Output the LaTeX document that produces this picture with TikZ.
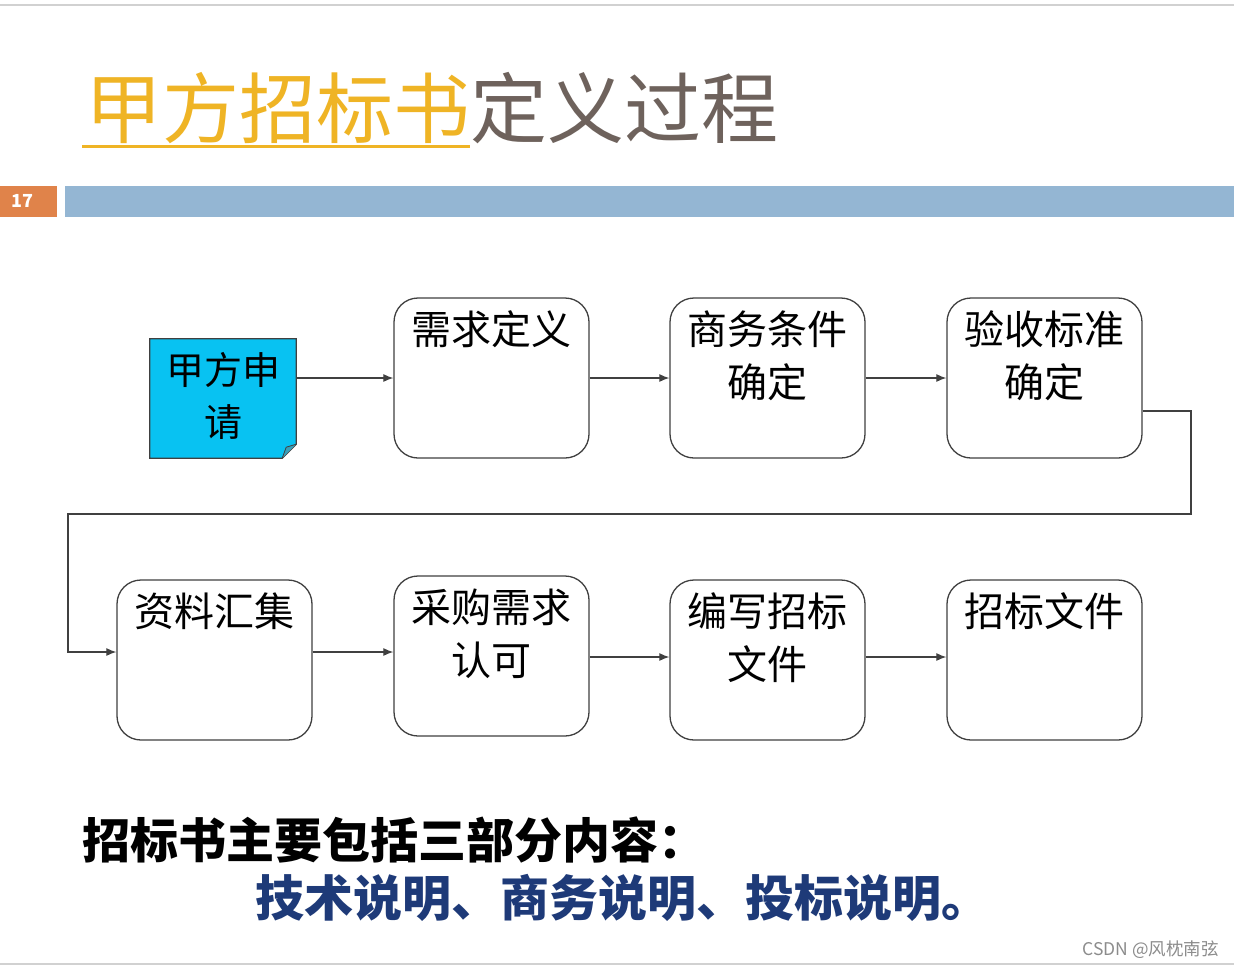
\documentclass[tikz,border=0pt]{standalone}
\usepackage{fontspec}
\setmainfont{Noto Sans CJK SC}
\setsansfont{Noto Sans CJK SC}
\usetikzlibrary{arrows.meta}
\definecolor{gold}{HTML}{EFB425}
\definecolor{titlegray}{HTML}{6E625C}
\definecolor{numorange}{HTML}{E0834A}
\definecolor{barblue}{HTML}{94B6D3}
\definecolor{notecyan}{HTML}{08C2F2}
\definecolor{navy}{HTML}{1E3A78}
\definecolor{linegray}{HTML}{404040}
\tikzset{
  procbox/.style={draw=linegray, line width=1.3pt, rounded corners=24pt, minimum width=195pt, minimum height=160pt, inner sep=0pt},
  boxtext/.style={anchor=north, align=center, inner sep=0pt, font=\fontsize{40}{53}\selectfont},
  conn/.style={draw=linegray, line width=1.2pt, -{Latex[length=10pt,width=8pt]}},
}
\begin{document}
\begin{tikzpicture}[x=1pt,y=-1pt]
\useasboundingbox (0,0) rectangle (1234,969);
\fill[white] (0,0) rectangle (1234,969);
% frame lines
\draw[draw=black!18, line width=2pt] (0,5) -- (1234,5);
\draw[draw=black!18, line width=2pt] (0,964) -- (1234,964);
% title
\node[anchor=west, inner sep=0pt, font=\fontsize{77}{77}\selectfont] (title) at (85,108)
  {\textcolor{gold}{甲方招标书}\textcolor{titlegray}{定义过程}};
\draw[draw=gold, line width=3pt] (82,146) -- (470,146);
% slide number and bar
\fill[numorange] (0,186) rectangle (57,217);
\node[text=white, font=\bfseries\fontsize{18}{18}\selectfont, inner sep=0pt] (num) at (22,201) {17};
\fill[barblue] (65,186) rectangle (1234,217);
% note box
\node[minimum width=146pt, minimum height=119pt, inner sep=0pt] (a0) at (223,398.5) {};
\fill[notecyan, draw=linegray, line width=1.2pt]
  (a0.north west) -- (a0.north east) -- ([yshift=14pt]a0.south east) -- ([xshift=-14pt]a0.south east) -- (a0.south west) -- cycle;
\fill[notecyan!70!black!80, draw=linegray, line width=0.8pt]
  ([xshift=-14pt]a0.south east) -- ([xshift=-10pt,yshift=11pt]a0.south east) -- ([yshift=14pt]a0.south east);
\node[align=center, inner sep=0pt, font=\fontsize{38}{52}\selectfont] (a0t) at (223,396) {甲方申\\请};
% row 1
\node[procbox] (b1) at (491.5,378) {};
\node[procbox] (b2) at (767.5,378) {};
\node[procbox] (b3) at (1044.5,378) {};
\node[boxtext] (t1) at ([yshift=-13pt]b1.north) {需求定义};
\node[boxtext] (t2) at ([yshift=-13pt]b2.north) {商务条件\\确定};
\node[boxtext] (t3) at ([yshift=-13pt]b3.north) {验收标准\\确定};
% row 2
\node[procbox] (c1) at (214.5,660) {};
\node[procbox] (c2) at (491.5,656) {};
\node[procbox] (c3) at (767.5,660) {};
\node[procbox] (c4) at (1044.5,660) {};
\node[boxtext] (u1) at ([yshift=-13pt]c1.north) {资料汇集};
\node[boxtext] (u2) at ([yshift=-13pt]c2.north) {采购需求\\认可};
\node[boxtext] (u3) at ([yshift=-13pt]c3.north) {编写招标\\文件};
\node[boxtext] (u4) at ([yshift=-13pt]c4.north) {招标文件};
% connectors
\draw[conn] (a0.east |- 0,378) -- (b1.west |- 0,378);
\draw[conn] (b1.east) -- (b2.west);
\draw[conn] (b2.east) -- (b3.west);
\coordinate (k1) at (1191,411);
\coordinate (k2) at (1191,514);
\coordinate (k3) at (68,514);
\coordinate (k4) at (68,652);
\draw[conn] (b3.east |- k1) -- (k1) -- (k2) -- (k3) -- (k4) -- (c1.west |- k4);
\draw[conn] (c1.east |- 0,652) -- (c2.west |- 0,652);
\draw[conn] (c2.east |- 0,657) -- (c3.west |- 0,657);
\draw[conn] (c3.east |- 0,657) -- (c4.west |- 0,657);
% bottom text
\node[anchor=west, inner sep=0pt, font=\bfseries\fontsize{48}{48}\selectfont] (s1) at (82,840) {招标书主要包括三部分内容：};
\node[anchor=west, inner sep=0pt, text=navy, font=\bfseries\fontsize{49}{49}\selectfont] (s2) at (255,898) {技术说明、商务说明、投标说明。};
\node[anchor=east, inner sep=0pt, text=black!45, font=\fontsize{17.5}{17.5}\selectfont] (wm) at (1219,950) {CSDN @风枕南弦};
\end{tikzpicture}
\end{document}
